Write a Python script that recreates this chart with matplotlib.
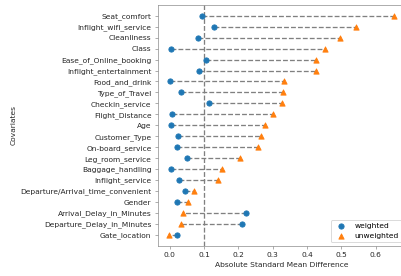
import matplotlib
matplotlib.use("Agg")
import matplotlib.pyplot as plt
import numpy as np

covariates = ["Seat_comfort", "Inflight_wifi_service", "Cleanliness", "Class",
              "Ease_of_Online_booking", "Inflight_entertainment", "Food_and_drink",
              "Type_of_Travel", "Checkin_service", "Flight_Distance", "Age",
              "Customer_Type", "On-board_service", "Leg_room_service",
              "Baggage_handling", "Inflight_service",
              "Departure/Arrival_time_convenient", "Gender",
              "Arrival_Delay_in_Minutes", "Departure_Delay_in_Minutes", "Gate_location"]
weighted = [0.095, 0.129, 0.083, 0.003, 0.106, 0.085, 0.0, 0.033, 0.115, 0.006, 0.003,
            0.025, 0.022, 0.051, 0.003, 0.027, 0.044, 0.022, 0.223, 0.212, 0.020]
unweighted = [0.654, 0.541, 0.496, 0.452, 0.427, 0.427, 0.333, 0.330, 0.326, 0.300, 0.277,
              0.265, 0.256, 0.204, 0.151, 0.141, 0.072, 0.052, 0.038, 0.033, -0.002]
threshold = 0.1

plt.rcParams["font.size"] = 8.5
DPI = 63
fig = plt.figure(figsize=(401 / DPI, 276 / DPI), dpi=DPI)
ax = fig.add_axes([157.7 / 401, 1 - 246 / 276, (405.6 - 157.7) / 401, (246 - 4.7) / 276])

text_c = "#262626"
y = np.arange(len(covariates))
ax.hlines(y, weighted, unweighted, colors="gray", linestyles="--", linewidth=1.5)
ax.scatter(weighted, y, marker="o", color="#1f77b4", label="weighted", zorder=3)
ax.scatter(unweighted, y, marker="^", color="#ff7f0e", label="unweighted", zorder=3)
ax.axvline(threshold, color="gray", linestyle="--", linewidth=1.5, zorder=1)

ax.set_yticks(y)
ax.set_yticklabels(covariates)
ax.invert_yaxis()
ax.set_xticks([0.0, 0.1, 0.2, 0.3, 0.4, 0.5, 0.6])
ax.set_xlabel("Absolute Standard Mean Difference", color=text_c)
ax.set_ylabel("Covariates", color=text_c)
ax.tick_params(colors=text_c)
for s in ax.spines.values():
    s.set_color("#8c8c8c")
ax.tick_params(color="#8c8c8c")
ax.legend(loc="lower right")

fig.savefig("out.png", dpi=DPI)
